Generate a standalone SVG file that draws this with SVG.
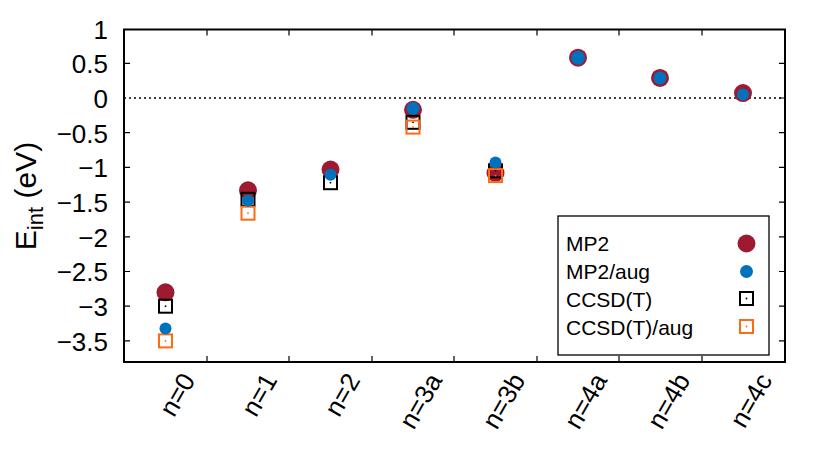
<svg xmlns="http://www.w3.org/2000/svg" width="830" height="464" viewBox="0 0 830 464">
<style>
text{font-family:"Liberation Sans",Arial,sans-serif;fill:#000}
.yl{font-size:26px;text-anchor:end}
.xl{font-size:26px;text-anchor:end}
.lg{font-size:21px}
.t{stroke:#000;stroke-width:1.2}
.r{fill:#9e1a30}
.b{fill:#0072bd}
.sq{fill:none;stroke:#000;stroke-width:2}
.so{fill:none;stroke:#ff6a13;stroke-width:2}
</style>
<defs>
<g id="cs"><rect x="-6.5" y="-6.5" width="13" height="13" class="sq"/><circle r="0.9" fill="#000"/></g>
<g id="co"><rect x="-6.5" y="-6.5" width="13" height="13" class="so"/><circle r="0.9" fill="#ff6a13"/></g>
</defs>
<rect width="830" height="464" fill="#fff"/>
<g id="axes">
<line x1="124" y1="98" x2="785" y2="98" stroke="#000" stroke-width="1.3" stroke-dasharray="2,3"/>
<g class="t">
<path d="M124 63.3h6M124 132.7h6M124 167.4h6M124 202.1h6M124 236.8h6M124 271.5h6M124 306.2h6M124 340.9h6 M785 63.3h-6M785 98h-6M785 132.7h-6M785 167.4h-6M785 202.1h-6M785 236.8h-6M785 271.5h-6M785 306.2h-6M785 340.9h-6"/>
<path d="M207 29.5v6M289 29.5v6M372 29.5v6M454 29.5v6M537 29.5v6M619 29.5v6M702 29.5v6 M207 362v-6M289 362v-6M372 362v-6M454 362v-6M537 362v-6M619 362v-6M702 362v-6"/>
</g>
<rect x="124" y="29.5" width="661" height="332.5" fill="none" stroke="#000" stroke-width="2"/>
<g class="yl">
<text x="108" y="39">1</text><text x="108" y="73">0.5</text><text x="108" y="108">0</text>
<text x="108" y="143">−0.5</text><text x="108" y="177">−1</text><text x="108" y="212">−1.5</text>
<text x="108" y="247">−2</text><text x="108" y="281">−2.5</text><text x="108" y="316">−3</text><text x="108" y="351">−3.5</text>
</g>
<text transform="translate(36,196) rotate(-90)" font-size="30" text-anchor="middle">E<tspan font-size="22" dy="7">int</tspan><tspan dy="-7"> (eV)</tspan></text>
<g class="xl">
<text transform="translate(196,380) rotate(-60)">n=0</text>
<text transform="translate(278,380) rotate(-60)">n=1</text>
<text transform="translate(361,380) rotate(-60)">n=2</text>
<text transform="translate(443,380) rotate(-60)">n=3a</text>
<text transform="translate(526,380) rotate(-60)">n=3b</text>
<text transform="translate(608,380) rotate(-60)">n=4a</text>
<text transform="translate(691,380) rotate(-60)">n=4b</text>
<text transform="translate(773,380) rotate(-60)">n=4c</text>
</g>
</g>
<g id="mp2" class="r">
<circle cx="165.5" cy="292.3" r="9"/><circle cx="248" cy="190.3" r="9"/><circle cx="330.5" cy="169.5" r="9"/>
<circle cx="413" cy="109.8" r="9"/><circle cx="495.5" cy="173" r="9"/><circle cx="578" cy="57.7" r="9"/>
<circle cx="660" cy="77.9" r="9"/><circle cx="743" cy="93.1" r="9"/>
</g>
<g id="ccsd">
<use href="#cs" x="165.5" y="306.2"/><use href="#cs" x="248" y="199.3"/><use href="#cs" x="330.5" y="182.7"/>
<use href="#cs" x="413" y="122.3"/><use href="#cs" x="495.5" y="170.8"/>
</g>
<g id="ccsdaug">
<use href="#co" x="165.5" y="340.9"/><use href="#co" x="248" y="213.2"/>
<use href="#co" x="413" y="127.1"/><use href="#co" x="495.5" y="175.6"/>
</g>
<g id="mp2aug" class="b">
<circle cx="165.5" cy="328.4" r="6"/><circle cx="248" cy="200.7" r="6"/><circle cx="330.5" cy="174.8" r="6"/>
<circle cx="413" cy="108.4" r="6.5"/><circle cx="495.5" cy="162.5" r="6"/><circle cx="578" cy="57.7" r="7"/>
<circle cx="660" cy="77.9" r="6.5"/><circle cx="743" cy="94.5" r="6"/>
</g>
<g id="legend">
<rect x="558" y="216" width="211" height="139" fill="#fff" stroke="#000" stroke-width="1.3"/>
<text class="lg" x="566" y="251">MP2</text>
<text class="lg" x="566" y="279">MP2/aug</text>
<text class="lg" x="566" y="307">CCSD(T)</text>
<text class="lg" x="566" y="335">CCSD(T)/aug</text>
<circle class="r" cx="746.5" cy="243.5" r="9"/>
<circle class="b" cx="746.5" cy="271.5" r="6.5"/>
<use href="#cs" x="746.5" y="298.5"/>
<use href="#co" x="746.5" y="326.5"/>
</g>
</svg>
